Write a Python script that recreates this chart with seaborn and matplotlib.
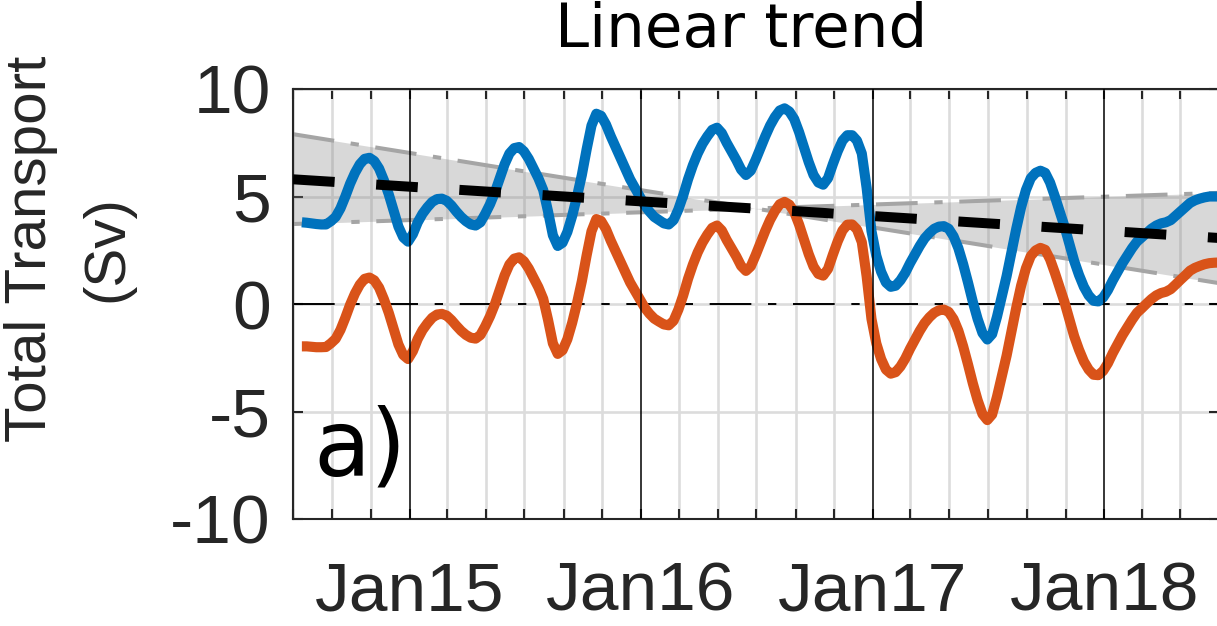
import matplotlib
matplotlib.use("Agg")
import matplotlib.pyplot as plt
import matplotlib.dates as mdates
import pandas as pd
import seaborn as sns

# Quarter-monthly samples of the low-pass filtered transport record (Sv)
sample_dates = pd.date_range("2014-07-15", "2018-07-01", periods=191)

total_transport = [
    3.80, 3.78, 3.75, 3.72, 3.70, 3.70, 3.85, 4.05, 4.45, 5.00,
    5.60, 6.10, 6.50, 6.75, 6.80, 6.65, 6.30, 5.75, 5.10, 4.35,
    3.60, 3.10, 2.90, 3.25, 3.80, 4.20, 4.50, 4.75, 4.88, 4.90,
    4.80, 4.58, 4.30, 4.05, 3.85, 3.70, 3.65, 3.80, 4.20, 4.65,
    5.20, 5.85, 6.50, 7.00, 7.25, 7.30, 7.10, 6.75, 6.30, 5.85,
    5.30, 4.30, 3.20, 2.70, 2.85, 3.35, 4.10, 5.00, 6.00, 7.20,
    8.30, 8.85, 8.75, 8.35, 7.80, 7.30, 6.80, 6.30, 5.80, 5.40,
    5.00, 4.60, 4.30, 4.05, 3.90, 3.75, 3.70, 3.90, 4.40, 5.05,
    5.80, 6.45, 7.00, 7.45, 7.80, 8.10, 8.20, 7.95, 7.50, 7.10,
    6.70, 6.25, 6.00, 6.20, 6.70, 7.25, 7.80, 8.30, 8.70, 9.00,
    9.10, 8.95, 8.60, 8.00, 7.30, 6.60, 6.00, 5.65, 5.55, 5.85,
    6.50, 7.10, 7.60, 7.85, 7.85, 7.60, 7.00, 5.40, 3.40, 2.25,
    1.50, 1.00, 0.80, 0.85, 1.10, 1.45, 1.90, 2.30, 2.70, 3.05,
    3.30, 3.50, 3.60, 3.62, 3.50, 3.15, 2.60, 1.85, 1.00, 0.10,
    -0.70, -1.35, -1.65, -1.40, -0.60, 0.35, 1.30, 2.40, 3.50, 4.50,
    5.30, 5.85, 6.10, 6.20, 6.10, 5.65, 5.00, 4.30, 3.60, 2.80,
    2.00, 1.35, 0.80, 0.40, 0.15, 0.12, 0.30, 0.65, 1.10, 1.50,
    1.90, 2.25, 2.60, 2.90, 3.10, 3.30, 3.50, 3.65, 3.75, 3.80,
    3.90, 4.10, 4.30, 4.50, 4.70, 4.82, 4.90, 4.96, 5.00, 5.00,
    5.00,
]

detrended_transport = [
    -1.97, -1.97, -1.99, -2.01, -2.01, -2.00, -1.83, -1.62, -1.20, -0.64,
    -0.03, 0.49, 0.90, 1.17, 1.23, 1.10, 0.76, 0.22, -0.41, -1.15,
    -1.88, -2.37, -2.56, -2.19, -1.63, -1.21, -0.90, -0.64, -0.49, -0.46,
    -0.54, -0.75, -1.01, -1.25, -1.44, -1.57, -1.61, -1.44, -1.03, -0.56,
    0.00, 0.66, 1.33, 1.84, 2.11, 2.17, 1.99, 1.65, 1.21, 0.78,
    0.24, -0.74, -1.83, -2.32, -2.15, -1.64, -0.87, 0.04, 1.06, 2.27,
    3.38, 3.95, 3.86, 3.48, 2.94, 2.46, 1.97, 1.48, 1.00, 0.61,
    0.23, -0.16, -0.45, -0.68, -0.82, -0.95, -0.99, -0.78, -0.26, 0.40,
    1.17, 1.83, 2.40, 2.86, 3.23, 3.54, 3.65, 3.42, 2.98, 2.60,
    2.21, 1.77, 1.54, 1.75, 2.27, 2.83, 3.40, 3.91, 4.32, 4.64,
    4.75, 4.62, 4.28, 3.70, 3.01, 2.32, 1.74, 1.40, 1.32, 1.63,
    2.29, 2.91, 3.42, 3.69, 3.70, 3.47, 2.88, 1.29, -0.69, -1.83,
    -2.56, -3.05, -3.24, -3.17, -2.91, -2.54, -2.08, -1.67, -1.25, -0.89,
    -0.62, -0.41, -0.29, -0.26, -0.37, -0.70, -1.24, -1.97, -2.81, -3.69,
    -4.48, -5.12, -5.40, -5.14, -4.32, -3.36, -2.40, -1.28, -0.17, 0.85,
    1.66, 2.23, 2.49, 2.61, 2.52, 2.08, 1.45, 0.76, 0.08, -0.71,
    -1.50, -2.13, -2.67, -3.05, -3.29, -3.31, -3.11, -2.75, -2.28, -1.87,
    -1.45, -1.09, -0.73, -0.41, -0.20, 0.02, 0.23, 0.40, 0.51, 0.57,
    0.69, 0.90, 1.12, 1.33, 1.55, 1.68, 1.77, 1.85, 1.90, 1.92,
    1.93,
]

# Fitted linear trend and its slope-uncertainty envelope at the record ends
trend_dates = pd.to_datetime(["2014-07-01", "2018-07-01"])
trend_line = [5.80, 3.07]
trend_bound_a = [7.90, 0.97]
trend_bound_b = [3.72, 5.17]

y_ticks = [-10, -5, 0, 5, 10]
panel_title = "Linear trend"
y_label = "Total Transport\n(Sv)"
panel_tag = "a)"

BLUE = "#0072BD"
ORANGE = "#D95319"
INK = "#262626"
GRID = "#dcdcdc"

sns.set_style("ticks")
plt.rcParams["font.family"] = ["Liberation Sans", "DejaVu Sans"]
plt.rcParams["axes.unicode_minus"] = False
plt.rcParams["lines.scale_dashes"] = False

W, H = 1217, 626
fig = plt.figure(figsize=(W / 100, H / 100), dpi=100)
ax = fig.add_axes([293 / W, 107 / H, 926 / W, 430 / H])

dashdot = (0, (30, 12, 6, 12))

# trend envelope
ax.fill_between(trend_dates, trend_bound_a, trend_bound_b,
                color="0.5", alpha=0.3, lw=0, zorder=1)
for bound in (trend_bound_a, trend_bound_b):
    sns.lineplot(x=trend_dates, y=bound, color="#a5a5a5", lw=2.9,
                 ls=dashdot, ax=ax, zorder=2, errorbar=None)

ax.axhline(0, color="k", lw=1.4, ls=dashdot, zorder=1.5)

# transport series
series_style = dict(lw=7.3, solid_joinstyle="round", solid_capstyle="butt",
                    errorbar=None)
sns.lineplot(x=sample_dates, y=total_transport, color=BLUE,
             ax=ax, zorder=3, **series_style)
sns.lineplot(x=sample_dates, y=detrended_transport, color=ORANGE,
             ax=ax, zorder=3.1, **series_style)

# linear trend
sns.lineplot(x=trend_dates, y=trend_line, color="k", lw=7.2,
             ls=(0, (30, 30)), ax=ax, zorder=4, errorbar=None)

ax.set(xlabel="", ylabel="")
ax.set_xlim(trend_dates[0], trend_dates[-1])
ax.set_ylim(y_ticks[0], y_ticks[-1])
ax.set_yticks(y_ticks)
ax.xaxis.set_major_locator(mdates.YearLocator())
ax.xaxis.set_major_formatter(mdates.DateFormatter("%b%y"))
ax.xaxis.set_minor_locator(mdates.MonthLocator(bymonth=[1, 3, 5, 7, 9, 11]))

ax.set_axisbelow(True)
ax.grid(which="minor", axis="x", color=GRID, lw=1.9)
ax.grid(which="major", axis="y", color=GRID, lw=1.9)
for t in ax.get_xticks():
    ax.axvline(t, color="k", lw=1.1, zorder=5)

ax.tick_params(which="both", direction="in", top=True, right=True,
               length=7, width=1.5, color=INK)
ax.tick_params(axis="x", which="major", labelsize=50, pad=30, labelcolor=INK)
ax.tick_params(axis="y", labelsize=50, pad=16, labelcolor=INK)
for s in ax.spines.values():
    s.set_color(INK)
    s.set_linewidth(1.5)

fig.text(741.5 / W, 1 - 47 / H, panel_title, family="DejaVu Sans",
         fontsize=44, ha="center", va="baseline", color="k")
fig.text(69 / W, 1 - 249 / H, y_label, rotation=90, ha="center", va="center",
         multialignment="center", fontsize=42, linespacing=1.52, color=INK)
ax.text(0.022, 0.1023, panel_tag, transform=ax.transAxes,
        family="DejaVu Sans", fontsize=67, va="baseline", color="k", zorder=6)

fig.savefig("out.png", dpi=100)
